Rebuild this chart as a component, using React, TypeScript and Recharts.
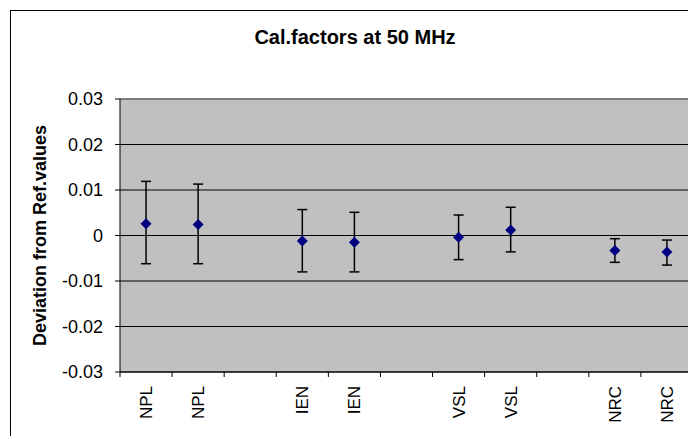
import {
  ComposedChart, Scatter, XAxis, YAxis, CartesianGrid, ErrorBar, ReferenceLine,
} from "recharts";

const FONT = "Arial, 'Liberation Sans', sans-serif";
const MARKER = "#000080";

// x categories, blanks are the gaps between labs
const categories = ["NPL", "NPL", "", "IEN", "IEN", "", "VSL", "VSL", "", "NRC", "NRC"];
const values = [0.0026, 0.0024, null, -0.0012, -0.0015, null, -0.0004, 0.0012, null, -0.0033, -0.0036];
const upper = [0.0119, 0.0113, null, 0.0057, 0.0051, null, 0.0045, 0.0062, null, -0.0007, -0.0010];
const lower = [-0.0062, -0.0062, null, -0.0080, -0.0080, null, -0.0053, -0.0036, null, -0.0059, -0.0065];
const yTicks = [-0.03, -0.02, -0.01, 0, 0.01, 0.02, 0.03];

const data = categories
  .map((name, i) => {
    const y = values[i];
    if (y == null) return null;
    return { x: i + 0.5, y, name, err: [y - (lower[i] as number), (upper[i] as number) - y] };
  })
  .filter(Boolean);

const boundaryTicks = categories.map((_, i) => i).concat(categories.length);
const labelTicks = categories.map((_, i) => i + 0.5);

const Diamond = (p: any) => {
  const { cx, cy } = p;
  const r = 5.5;
  return <polygon points={`${cx},${cy - r} ${cx + r},${cy} ${cx},${cy + r} ${cx - r},${cy}`} fill={MARKER} />;
};

const CatTick = (p: any) => {
  const { x, y, payload } = p;
  const text = categories[Math.floor(payload.value)];
  if (!text) return <g />;
  return (
    <text
      transform={`translate(${x + 6},${y}) rotate(-90)`}
      textAnchor="end"
      fontSize={17}
      fontFamily={FONT}
      fill="#000"
    >
      {text}
    </text>
  );
};

const YLabel = (p: any) => {
  const vb = p.viewBox;
  const cx = vb.x + 35;
  const cy = vb.y + vb.height / 2;
  return (
    <text
      x={cx}
      y={cy}
      transform={`rotate(-90 ${cx} ${cy})`}
      textAnchor="middle"
      fontSize={18}
      fontWeight="bold"
      fontFamily={FONT}
      fill="#000"
    >
      Deviation from Ref.values
    </text>
  );
};

export default function App() {
  return (
    <div style={{ position: "relative", width: 686, height: 428, overflow: "hidden" }}>
      <div style={{ marginLeft: 2, marginTop: 2, width: 688, height: 440, border: "1px solid #000", background: "#fff", position: "relative" }}>
        <div style={{
          position: "absolute", left: 0, width: 688, top: 15, textAlign: "center",
          fontFamily: FONT, fontWeight: "bold", fontSize: 20, color: "#000",
        }}>
          Cal.factors at 50 MHz
        </div>
        <ComposedChart
          width={688}
          height={432}
          data={data}
          margin={{ top: 88, right: 6, bottom: 5, left: 0 }}
        >
          <CartesianGrid
            xAxisId="a"
            yAxisId="y"
            vertical={false}
            stroke="#000"
            fill="#c0c0c0"
            fillOpacity={1}
          />
          <XAxis
            xAxisId="a"
            type="number"
            dataKey="x"
            domain={[0, categories.length]}
            ticks={boundaryTicks}
            tick={() => <g />}
            tickSize={5}
            height={6}
            axisLine={{ stroke: "#000" }}
            tickLine={{ stroke: "#000" }}
            allowDataOverflow
          />
          <XAxis
            xAxisId="b"
            type="number"
            dataKey="x"
            domain={[0, categories.length]}
            ticks={labelTicks}
            tick={<CatTick />}
            tickLine={false}
            axisLine={false}
            height={60}
            interval={0}
            allowDataOverflow
          />
          <YAxis
            yAxisId="y"
            type="number"
            domain={[-0.03, 0.03]}
            ticks={yTicks}
            width={109}
            tickSize={5}
            tickMargin={12}
            axisLine={{ stroke: "#000" }}
            tickLine={{ stroke: "#000" }}
            tick={{ fill: "#000", fontSize: 18, fontFamily: FONT }}
            tickFormatter={(v: number) => String(v)}
            interval={0}
            label={YLabel}
          />
          <ReferenceLine xAxisId="a" yAxisId="y" y={0.03} stroke="#808080" strokeWidth={1.5} />
          <ReferenceLine xAxisId="a" yAxisId="y" x={categories.length} stroke="#808080" strokeWidth={1.5} />
          <Scatter xAxisId="a" yAxisId="y" dataKey="y" shape={Diamond} isAnimationActive={false}>
            <ErrorBar dataKey="err" direction="y" width={5} stroke="#000" strokeWidth={1.5} isAnimationActive={false} />
          </Scatter>
        </ComposedChart>
      </div>
    </div>
  );
}
